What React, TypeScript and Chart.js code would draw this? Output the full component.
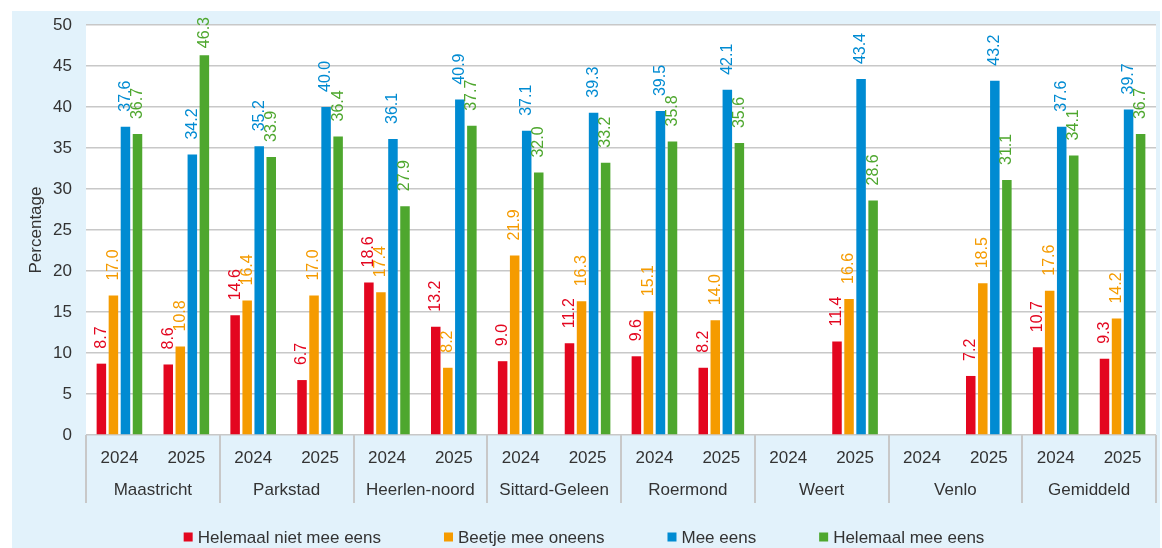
import { useEffect, useRef } from 'react';
import { Chart, registerables } from 'chart.js';

Chart.register(...registerables);

// ---------- data ----------
const regions = ['Maastricht', 'Parkstad', 'Heerlen-noord', 'Sittard-Geleen', 'Roermond', 'Weert', 'Venlo', 'Gemiddeld'];
const years = ['2024', '2025'];
const seriesNames = ['Helemaal niet mee eens', 'Beetje mee oneens', 'Mee eens', 'Helemaal mee eens'];
const seriesColors = ['#E3061F', '#F59B00', '#008BD2', '#4EA72E'];

const helemaalNiet = [8.7, 8.6, 14.6, 6.7, 18.6, 13.2, 9.0, 11.2, 9.6, 8.2, null, 11.4, null, 7.2, 10.7, 9.3];
const beetjeOneens = [17.0, 10.8, 16.4, 17.0, 17.4, 8.2, 21.9, 16.3, 15.1, 14.0, null, 16.6, null, 18.5, 17.6, 14.2];
const meeEens = [37.6, 34.2, 35.2, 40.0, 36.1, 40.9, 37.1, 39.3, 39.5, 42.1, null, 43.4, null, 43.2, 37.6, 39.7];
const helemaalMee = [36.7, 46.3, 33.9, 36.4, 27.9, 37.7, 32.0, 33.2, 35.8, 35.6, null, 28.6, null, 31.1, 34.1, 36.7];

const yMin = 0;
const yMax = 50;
const yStep = 5;
const yTitle = 'Percentage';

const FONT = '"Liberation Sans", Arial, sans-serif';
const TEXT = '#333333';
const GRID = '#C8C8C8';
const PANEL = '#E2F2FB';

const xLabels = regions.flatMap(() => years);
const seriesValues = [helemaalNiet, beetjeOneens, meeEens, helemaalMee];

// ---------- plugins ----------
const backgroundPlugin = {
  id: 'panelBackground',
  beforeDraw(chart: any) {
    const { ctx, chartArea } = chart;
    ctx.save();
    ctx.fillStyle = PANEL;
    ctx.fillRect(12, 11, chart.width - 14, chart.height - 11);
    ctx.fillStyle = '#FFFFFF';
    ctx.fillRect(chartArea.left, chartArea.top, chartArea.right - chartArea.left, chartArea.bottom - chartArea.top);
    ctx.restore();
  },
};

const separatorPlugin = {
  id: 'groupSeparators',
  afterDraw(chart: any) {
    const xs = chart.scales.x;
    const { ctx } = chart;
    const w = (xs.right - xs.left) / regions.length;
    ctx.save();
    ctx.strokeStyle = GRID;
    ctx.lineWidth = 2;
    for (let i = 0; i <= regions.length; i++) {
      const x = Math.round(xs.left + i * w);
      ctx.beginPath();
      ctx.moveTo(x, xs.top);
      ctx.lineTo(x, xs.top + 68);
      ctx.stroke();
    }
    ctx.restore();
  },
};

const dataLabelPlugin = {
  id: 'verticalDataLabels',
  afterDatasetsDraw(chart: any) {
    const { ctx } = chart;
    ctx.save();
    ctx.font = `16px ${FONT}`;
    ctx.textAlign = 'left';
    ctx.textBaseline = 'middle';
    chart.data.datasets.forEach((ds: any, di: number) => {
      const meta = chart.getDatasetMeta(di);
      meta.data.forEach((el: any, i: number) => {
        const v = ds.data[i];
        if (v === null || v === undefined) return;
        const txt = v.toFixed(1);
        const tw = ctx.measureText(txt).width;
        let y = el.y - 15;
        if (y - tw < 17) y = 17 + tw;
        ctx.save();
        ctx.translate(el.x, y);
        ctx.rotate(-Math.PI / 2);
        ctx.fillStyle = ds.backgroundColor;
        ctx.fillText(txt, 0, 0);
        ctx.restore();
      });
    });
    ctx.restore();
  },
};

const legendPlugin = {
  id: 'bottomLegend',
  afterDraw(chart: any) {
    const { ctx } = chart;
    ctx.save();
    ctx.font = `17px ${FONT}`;
    ctx.textBaseline = 'middle';
    ctx.textAlign = 'left';
    const box = 9;
    const gapText = 5;
    const gapItem = 63;
    const items = chart.data.datasets.map((d: any) => ({
      text: d.label as string,
      color: d.backgroundColor as string,
      w: ctx.measureText(d.label).width,
    }));
    const total = items.reduce((s: number, it: any) => s + box + gapText + it.w, 0) + gapItem * (items.length - 1);
    let x = 584 - total / 2;
    const y = chart.height - 11;
    items.forEach((it: any) => {
      ctx.fillStyle = it.color;
      ctx.fillRect(x, y - box / 2, box, box);
      ctx.fillStyle = TEXT;
      ctx.fillText(it.text, x + box + gapText, y + 1);
      x += box + gapText + it.w + gapItem;
    });
    ctx.restore();
  },
};

export default function App() {
  const ref = useRef<HTMLCanvasElement | null>(null);

  useEffect(() => {
    if (!ref.current) return;
    const chart = new Chart(ref.current, {
      type: 'bar',
      data: {
        labels: xLabels,
        datasets: seriesNames.map((name, i) => ({
          label: name,
          data: seriesValues[i] as any,
          backgroundColor: seriesColors[i],
          borderWidth: 0,
          categoryPercentage: 0.72,
          barPercentage: 0.79,
          xAxisID: 'x',
        })),
      },
      options: {
        animation: false,
        responsive: false,
        layout: { padding: { left: 12, top: 25, right: 6, bottom: 43 } },
        plugins: {
          legend: { display: false },
          tooltip: { enabled: false },
        },
        scales: {
          y: {
            min: yMin,
            max: yMax,
            ticks: { stepSize: yStep, color: TEXT, font: { family: FONT, size: 17 }, padding: 14 },
            grid: { color: GRID, lineWidth: 1.5, drawTicks: false },
            border: { display: false },
            title: { display: true, text: yTitle, color: TEXT, font: { family: FONT, size: 17 }, padding: { top: 14, bottom: 0 } },
            afterFit(scale: any) {
              scale.width = 74;
            },
          },
          x: {
            position: 'bottom',
            grid: { display: false, drawTicks: false },
            border: { display: false },
            ticks: { color: TEXT, font: { family: FONT, size: 17 }, padding: 13, autoSkip: false, maxRotation: 0 },
            afterFit(scale: any) {
              scale.height = 36;
            },
          },
          x2: {
            type: 'category',
            position: 'bottom',
            labels: regions,
            offset: true,
            grid: { display: false, drawTicks: false },
            border: { display: false },
            ticks: { color: TEXT, font: { family: FONT, size: 17 }, padding: 9, autoSkip: false, maxRotation: 0 },
            afterFit(scale: any) {
              scale.height = 34;
            },
          },
        },
      } as any,
      plugins: [backgroundPlugin, separatorPlugin, dataLabelPlugin, legendPlugin],
    });
    return () => chart.destroy();
  }, []);

  return (
    <div style={{ position: 'absolute', left: 0, top: 0, width: 1162, height: 548 }}>
      <canvas ref={ref} width={1162} height={548} />
    </div>
  );
}
